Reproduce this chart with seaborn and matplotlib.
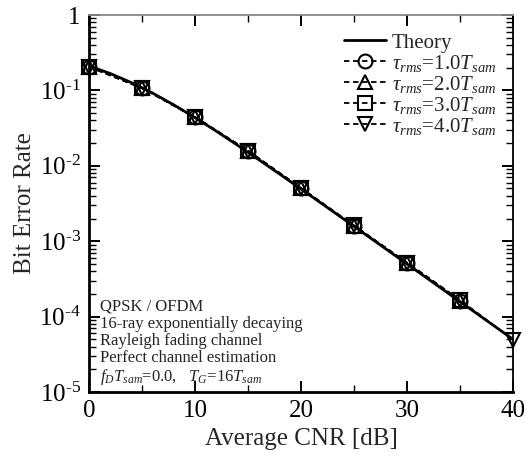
import numpy as np
import pandas as pd
import matplotlib
matplotlib.use("Agg")
import matplotlib.pyplot as plt
from matplotlib.ticker import FixedLocator, MultipleLocator, LogLocator, NullFormatter
import seaborn as sns

# Theoretical BER of QPSK/OFDM over Rayleigh fading
cnr_theory = [0, 2, 4, 6, 8, 10, 12, 14, 16, 18, 20, 22, 24, 26, 28, 30, 32, 34, 36, 38, 40]
ber_theory = [0.2113, 0.1675, 0.1269, 0.0921, 0.0643, 0.04356, 0.02886, 0.01879,
              0.01210, 0.00774, 0.004926, 0.003126, 0.001979, 0.001251, 0.0007905,
              0.0004993, 0.0003151, 0.0001989, 0.0001255, 0.0000792, 0.0000500]

# Simulated BER for several rms delay spreads
cnr_sim = [0, 5, 10, 15, 20, 25, 30, 35]
ber_tau1 = [0.205, 0.107, 0.0440, 0.0156, 0.00500, 0.00158, 0.000510, 0.000162]
ber_tau2 = [0.206, 0.108, 0.0442, 0.0157, 0.00502, 0.00160, 0.000515, 0.000163]
ber_tau3 = [0.207, 0.108, 0.0443, 0.0158, 0.00505, 0.00160, 0.000518, 0.000165]
cnr_sim4 = [0, 5, 10, 15, 20, 25, 30, 35, 40]
ber_tau4 = [0.207, 0.109, 0.0445, 0.0159, 0.00508, 0.00162, 0.000520, 0.000166, 0.0000495]

labels = ["Theory",
          r"$\tau_{rms}$=1.0$T_{sam}$",
          r"$\tau_{rms}$=2.0$T_{sam}$",
          r"$\tau_{rms}$=3.0$T_{sam}$",
          r"$\tau_{rms}$=4.0$T_{sam}$"]
ytick_vals = [1e-5, 1e-4, 1e-3, 1e-2, 1e-1, 1]
ytick_labels = ["$10^{\u20105}$", "$10^{\u20104}$", "$10^{\u20103}$",
                "$10^{\u20102}$", "$10^{\u20101}$", "1"]

sns.set_theme(style="ticks")
plt.rcParams["font.family"] = ["Liberation Serif", "DejaVu Serif"]
plt.rcParams["mathtext.fontset"] = "custom"
plt.rcParams["mathtext.rm"] = "Liberation Serif"
plt.rcParams["mathtext.it"] = "Liberation Serif:italic"
plt.rcParams["mathtext.bf"] = "Liberation Serif:bold"
plt.rcParams["axes.unicode_minus"] = False

fig = plt.figure(figsize=(5.26, 4.59), dpi=100)
ax = fig.add_axes([89 / 526, 1 - 392 / 459, (513 - 89) / 526, (392 - 15) / 459])

sns.lineplot(x=cnr_theory, y=ber_theory, ax=ax, color="black", lw=2.0,
             label=labels[0])

sim_sets = [(cnr_sim, ber_tau1, "o"), (cnr_sim, ber_tau2, "^"),
            (cnr_sim, ber_tau3, "s"), (cnr_sim4, ber_tau4, "v")]
for (xs, ys, mk), lab in zip(sim_sets, labels[1:]):
    sns.lineplot(x=xs, y=ys, ax=ax, color="black", lw=1.3, linestyle=(0, (3, 2)),
                 marker=mk, markersize=10, markerfacecolor="none",
                 markeredgecolor="black", markeredgewidth=1.5, label=lab,
                 clip_on=False, zorder=3)

ax.set_yscale("log")
ax.set_xlim(0, 40)
ax.set_ylim(1e-5, 1)

ax.xaxis.set_major_locator(MultipleLocator(10))
ax.xaxis.set_minor_locator(MultipleLocator(5))
ax.yaxis.set_major_locator(FixedLocator(ytick_vals))
ax.set_yticklabels(ytick_labels)
ax.yaxis.set_minor_locator(LogLocator(base=10, subs=np.arange(2, 10), numticks=20))
ax.yaxis.set_minor_formatter(NullFormatter())

ax.tick_params(which="both", direction="in", top=True, right=True, colors="black",
               labelsize=18)
ax.tick_params(which="major", length=8, width=1.4, pad=6)
ax.tick_params(which="minor", length=5, width=1.0)

for side in ["left", "bottom"]:
    ax.spines[side].set_linewidth(2.0)
    ax.spines[side].set_color("black")
ax.spines["right"].set_linewidth(1.3)
ax.spines["right"].set_color("black")
ax.spines["top"].set_linewidth(1.3)
ax.spines["top"].set_color("#888888")

ax.set_xlabel("Average CNR [dB]", fontsize=18, labelpad=4)
ax.set_ylabel("Bit Error Rate", fontsize=18, labelpad=2)

leg = ax.legend(loc="upper right", bbox_to_anchor=(0.99, 0.985), frameon=False,
                fontsize=15, handlelength=2.0, handletextpad=0.3,
                labelspacing=0.0, borderaxespad=0.2)

ax.text(0.025, 0.012,
        "QPSK / OFDM\n16-ray exponentially decaying\nRayleigh fading channel\n"
        "Perfect channel estimation\n"
        r"$f_D T_{sam}$=0.0,   $T_G$=16$T_{sam}$",
        transform=ax.transAxes, fontsize=12, ha="left", va="bottom",
        linespacing=1.1)

fig.savefig("out.png", dpi=100)
